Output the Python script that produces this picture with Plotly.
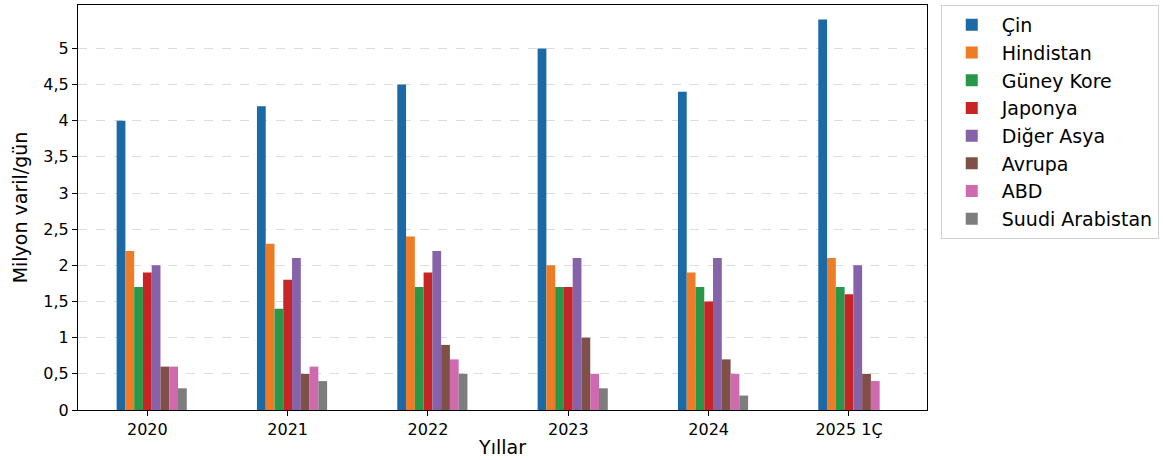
import plotly.graph_objects as go

years = ["2020", "2021", "2022", "2023", "2024", "2025 1Ç"]
series_names = ["Çin", "Hindistan", "Güney Kore", "Japonya", "Diğer Asya", "Avrupa", "ABD", "Suudi Arabistan"]
cin = [4.0, 4.2, 4.5, 5.0, 4.4, 5.4]
hindistan = [2.2, 2.3, 2.4, 2.0, 1.9, 2.1]
guney_kore = [1.7, 1.4, 1.7, 1.7, 1.7, 1.7]
japonya = [1.9, 1.8, 1.9, 1.7, 1.5, 1.6]
diger_asya = [2.0, 2.1, 2.2, 2.1, 2.1, 2.0]
avrupa = [0.6, 0.5, 0.9, 1.0, 0.7, 0.5]
abd = [0.6, 0.6, 0.7, 0.5, 0.5, 0.4]
suudi = [0.3, 0.4, 0.5, 0.3, 0.2, 0.0]
y_ticks = [0, 0.5, 1, 1.5, 2, 2.5, 3, 3.5, 4, 4.5, 5]
colors = ["#1b6aa5", "#ee7b25", "#29974a", "#c72426", "#8662a8", "#7f5047", "#cf6aae", "#7d7d7d"]

all_series = [cin, hindistan, guney_kore, japonya, diger_asya, avrupa, abd, suudi]
w = 0.0625
idx = list(range(len(years)))

fig = go.Figure()
for i, (name, vals, col) in enumerate(zip(series_names, all_series, colors)):
    xs = [k + (i - 3) * w for k in idx]
    fig.add_trace(go.Bar(x=xs, y=vals, name=name, width=w,
                         marker=dict(color=col, line=dict(width=0))))

font = "DejaVu Sans, Arial, sans-serif"
fig.update_layout(
    width=1163, height=460,
    margin=dict(l=78, r=235, t=5, b=50),
    plot_bgcolor="white", paper_bgcolor="white",
    separators=", ",
    barmode="overlay",
    font=dict(family=font, size=16, color="black"),
    showlegend=True,
    legend=dict(x=1.015, y=1.0, xanchor="left", yanchor="top",
                font=dict(size=19), bordercolor="#d0d0d0", borderwidth=1,
                bgcolor="white", itemwidth=50),
    xaxis=dict(range=[-0.494, 5.556], tickvals=idx, ticktext=years,
               showgrid=False, zeroline=False, showline=True, linecolor="black",
               linewidth=1, mirror=True, ticks="outside", ticklen=5,
               tickcolor="black", tickfont=dict(size=16),
               title=dict(text="Yıllar", font=dict(size=19), standoff=2)),
    yaxis=dict(range=[0, 5.6], tickvals=y_ticks,
               showgrid=True, gridcolor="#dcdcdc", griddash="dash", gridwidth=1,
               zeroline=False, showline=True, linecolor="black", linewidth=1,
               mirror=True, ticks="outside", ticklen=5, tickcolor="black",
               tickfont=dict(size=16),
               title=dict(text="Milyon varil/gün", font=dict(size=19), standoff=10)),
)
fig.write_html("out.html", config={"displayModeBar": False},
               post_script="document.body.style.margin='0';")
